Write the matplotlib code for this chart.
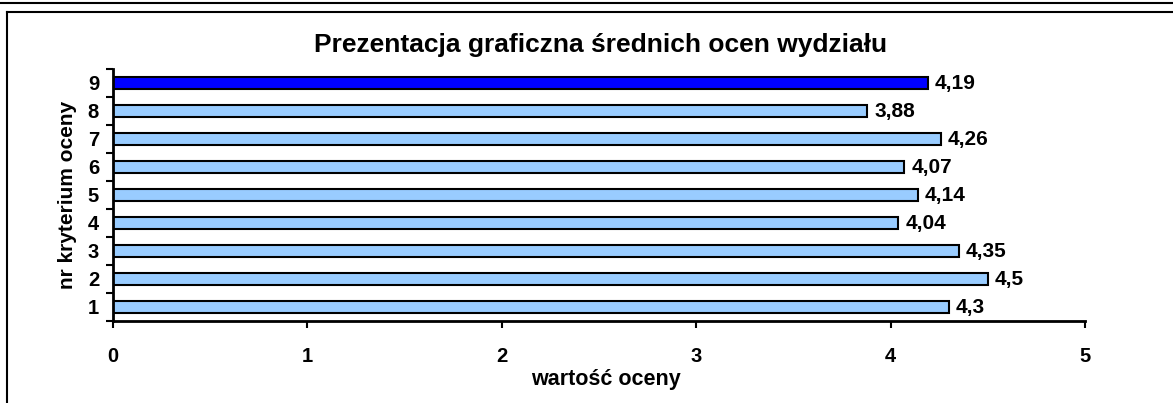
import matplotlib.pyplot as plt
from matplotlib.lines import Line2D
import numpy as np

plt.rcParams['font.family'] = ['Liberation Sans', 'DejaVu Sans']
plt.rcParams['font.weight'] = 'bold'

# data
kryteria = [1, 2, 3, 4, 5, 6, 7, 8, 9]
oceny = [4.3, 4.5, 4.35, 4.04, 4.14, 4.07, 4.26, 3.88, 4.19]
etykiety = ['4,3', '4,5', '4,35', '4,04', '4,14', '4,07', '4,26', '3,88', '4,19']

kolory = ['#99CCFF'] * 8 + ['#0000FF']

fig = plt.figure(figsize=(11.73, 4.03), dpi=100)
ax = fig.add_axes([0.0963, 0.2035, 0.8287, 0.6253])

ax.barh(kryteria, oceny, height=0.42, color=kolory, edgecolor='black', linewidth=1.5)

for k, v, t in zip(kryteria, oceny, etykiety):
    ax.annotate(t, xy=(v, k), xytext=(5, -0.5), textcoords='offset points',
                va='center', ha='left', fontsize=15, fontweight='bold')

ax.set_xlim(0, 5)
ax.set_ylim(0.5, 9.5)

# y ticks between categories, labels in the middle
ax.set_yticks(np.arange(0.5, 10, 1))
ax.set_yticklabels([])
ax.set_yticks(kryteria, minor=True)
ax.set_yticklabels([str(k) for k in kryteria], minor=True, fontsize=14.5, fontweight='bold')
ax.tick_params(axis='y', which='major', direction='out', length=5, width=1.5)
ax.tick_params(axis='y', which='minor', length=0, pad=10)

ax.set_xticks(range(6))
ax.set_xticklabels([str(i) for i in range(6)], fontsize=14.5, fontweight='bold')
ax.tick_params(axis='x', direction='out', length=5, width=1.5, pad=14)

for s in ['top', 'right']:
    ax.spines[s].set_visible(False)
for s in ['left', 'bottom']:
    ax.spines[s].set_linewidth(2)

ax.set_ylabel('nr kryterium oceny', fontsize=15, fontweight='bold', labelpad=8)
ax.set_xlabel('wartość oceny', fontsize=15.5, fontweight='bold', labelpad=-2)
ax.xaxis.set_label_coords(0.507, -0.19)

fig.text(0.512, 0.888, 'Prezentacja graficzna średnich ocen wydziału',
         ha='center', va='center', fontsize=19, fontweight='bold')

# frame lines
fig.add_artist(Line2D([0, 1], [1 - 2.5/403, 1 - 2.5/403], color='black', linewidth=1.5))
fig.add_artist(Line2D([7/1173, 1], [1 - 11.5/403, 1 - 11.5/403], color='black', linewidth=1.5))
fig.add_artist(Line2D([7/1173, 7/1173], [0, 1 - 11.5/403], color='black', linewidth=1.5))

fig.savefig('out.png', dpi=100)
